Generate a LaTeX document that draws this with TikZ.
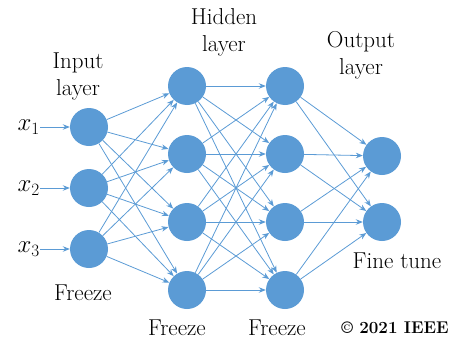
\documentclass[tikz,border=0pt]{standalone}
\usetikzlibrary{arrows.meta}
\definecolor{nodeblue}{HTML}{5B9BD5}
\begin{document}
\begin{tikzpicture}[x=1pt,y=-1pt,
  neuron/.style={circle,fill=nodeblue,minimum size=38pt,inner sep=0pt},
  link/.style={draw=nodeblue,line width=0.8pt,-{Stealth[length=7pt,width=5.5pt]}},
  lbl/.style={font=\fontsize{23}{27}\selectfont,align=center,inner sep=0pt}]
\useasboundingbox (0,0) rectangle (465,340);
% input layer
\foreach \i/\y in {1/127,2/188,3/249}
  \node[neuron] (i\i) at (89,\y) {};
% hidden layers
\foreach \i/\y in {1/86,2/154,3/222,4/290}{
  \node[neuron] (a\i) at (187,\y) {};
  \node[neuron] (b\i) at (285,\y) {};
}
% output layer
\foreach \i/\y in {1/156,2/222}
  \node[neuron] (o\i) at (382,\y) {};
% inputs
\foreach \i in {1,2,3}{
  \node[lbl,anchor=east] (x\i) at (40,0 |- i\i) {$x_\i$};
  \draw[link] (x\i) -- (i\i);
}
% connections
\foreach \i in {1,2,3}\foreach \j in {1,2,3,4}
  \draw[link] (i\i) -- (a\j);
\foreach \i in {1,2,3,4}\foreach \j in {1,2,3,4}
  \draw[link] (a\i) -- (b\j);
\foreach \i in {1,2,3,4}\foreach \j in {1,2}
  \draw[link] (b\i) -- (o\j);
% labels
\node[lbl] (tin) at (78,76) {Input\\layer};
\node[lbl] (thid) at (224,32) {Hidden\\layer};
\node[lbl] (tout) at (361,55) {Output\\layer};
\node[lbl] (tfine) at (397,261) {Fine tune};
\node[lbl] (tf0) at (83,293) {Freeze};
\node[lbl] (tf1) at (177,328) {Freeze};
\node[lbl] (tf2) at (277,328) {Freeze};
\node[lbl,font=\fontsize{17}{20}\selectfont\bfseries] (tc) at (395,328) {\textcopyright{} 2021 IEEE};
\end{tikzpicture}
\end{document}
